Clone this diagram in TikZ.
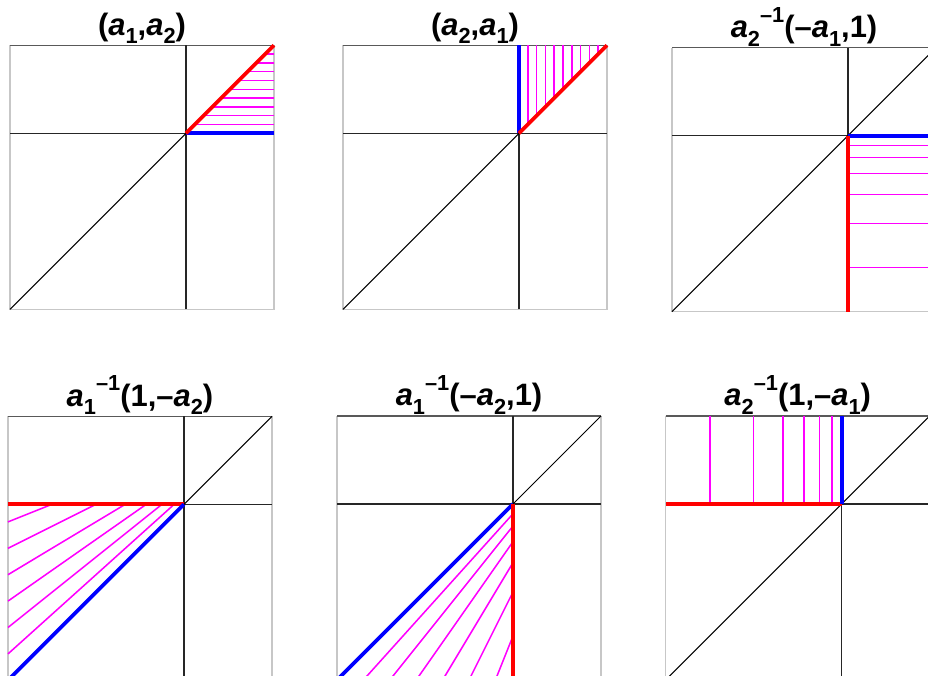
\documentclass[tikz,border=0pt]{standalone}
\usepackage{fontspec}
\setmainfont{Liberation Sans}
\usetikzlibrary{calc}
\definecolor{hatchmag}{RGB}{255,0,255}
\newcommand{\va}{\textit{a}}
\newcommand{\sbs}[1]{\raisebox{-0.28em}{\fontsize{15.5}{15.5}\selectfont #1}}
\newcommand{\sps}[1]{\raisebox{0.5em}{\fontsize{15.5}{15.5}\selectfont #1}}
\tikzset{
  frm/.style={draw=black!22, line width=0.9pt},
  frmtop/.style={draw=black!65, line width=0.9pt},
  axs/.style={draw=black!85, line width=0.8pt},
  dg/.style={draw=black, line width=0.75pt},
  rbd/.style={draw=red, line width=2.6pt},
  bbd/.style={draw=blue, line width=2.6pt},
  htc/.style={draw=hatchmag, line width=1.1pt},
  ttl/.style={font=\fontsize{22}{26}\selectfont\bfseries, anchor=base},
}
% frame, axes and diagonal of one chart, data range [-2,1]x[-2,1]
\newcommand{\chartbase}{%
  \draw[frm] (-2,1) -- (-2,-2) -- (1,-2) -- (1,1);
  \draw[frmtop] (-2,1) -- (1,1);
  \draw[axs] (-2,0) -- (1,0);
  \draw[axs] (0,-2) -- (0,1);
  \draw[dg] (-2,-2) -- (1,1);
}

\begin{document}
\begin{tikzpicture}[x=0.025cm, y=0.025cm]
  \useasboundingbox (0,0) rectangle (928,676);
  \fill[white] (0,0) rectangle (928,676);
  \clip (0,0) rectangle (928,676);

  % top row
  \begin{scope}[shift={(186,542.7)}, scale=88]
    \chartbase
    \foreach \c in {0.1,0.2,...,0.9}
      \draw[htc] (\c,\c) -- (1,\c);
    \draw[bbd] (0,0) -- (1,0);
    \draw[rbd] (0,0) -- (1,1);
    \node[ttl] (t1) at (-0.5,1.114) {(\va\sbs{1},\va\sbs{2})};
  \end{scope}

  \begin{scope}[shift={(519,542.7)}, scale=88]
    \chartbase
    \foreach \c in {0.1,0.2,...,0.9}
      \draw[htc] (\c,\c) -- (\c,1);
    \draw[bbd] (0,0) -- (0,1);
    \draw[rbd] (0,0) -- (1,1);
    \node[ttl] (t2) at (-0.5,1.114) {(\va\sbs{2},\va\sbs{1})};
  \end{scope}

  \begin{scope}[shift={(848,540.3)}, scale=88]
    \chartbase
    \foreach \c in {0.1,0.2,...,0.6}
      \draw[htc] (0,{-\c/(1-\c)}) -- (1,{-\c/(1-\c)});
    \draw[bbd] (0,0) -- (1,0);
    \draw[rbd] (0,0) -- (0,-2);
    \node[ttl] (t3) at (-0.5,1.114) {\va\sbs{2}\sps{--1}(--\va\sbs{1},1)};
  \end{scope}

  % bottom row
  \begin{scope}[shift={(184,171.7)}, scale=88]
    \chartbase
    \foreach \c in {0.1,0.2,...,0.6}
      \draw[htc] ({-\c/(1-\c)},0) -- (-2,{3*\c-2});
    \draw[rbd] (0,0) -- (-2,0);
    \draw[bbd] (0,0) -- (-2,-2);
    \node[ttl] (t4) at (-0.5,1.114) {\va\sbs{1}\sps{--1}(1,--\va\sbs{2})};
  \end{scope}

  \begin{scope}[shift={(513,172)}, scale=88]
    \chartbase
    \foreach \c in {0.1,0.2,...,0.6}
      \draw[htc] (0,{-\c/(1-\c)}) -- ({3*\c-2},-2);
    \draw[bbd] (0,0) -- (-2,-2);
    \draw[rbd] (0,0) -- (0,-2);
    \node[ttl] (t5) at (-0.5,1.114) {\va\sbs{1}\sps{--1}(--\va\sbs{2},1)};
  \end{scope}

  \begin{scope}[shift={(841.7,172)}, scale=88]
    \chartbase
    \foreach \c in {0.1,0.2,...,0.6}
      \draw[htc] ({-\c/(1-\c)},0) -- ({-\c/(1-\c)},1);
    \draw[rbd] (0,0) -- (-2,0);
    \draw[bbd] (0,0) -- (0,1);
    \node[ttl] (t6) at (-0.5,1.114) {\va\sbs{2}\sps{--1}(1,--\va\sbs{1})};
  \end{scope}
\end{tikzpicture}
\end{document}
